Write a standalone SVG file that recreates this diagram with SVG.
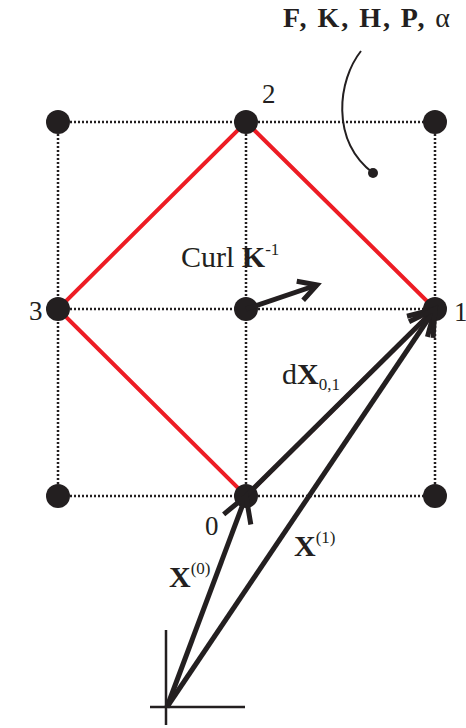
<svg xmlns="http://www.w3.org/2000/svg" width="466" height="728" viewBox="0 0 466 728">
<style>
.grid{stroke:#231f20;stroke-width:2.5;stroke-dasharray:2 2;fill:none}
.red{stroke:#ed1c24;stroke-width:4;fill:none;stroke-linejoin:miter}
.dot{fill:#231f20}
.arr{stroke:#231f20;stroke-width:5;fill:none}
.t{font-family:"Liberation Serif","Times New Roman",serif;fill:#231f20}
.b{font-weight:bold}
</style>
<defs>
<marker id="head" markerUnits="userSpaceOnUse" orient="auto" overflow="visible" markerWidth="30" markerHeight="30" refX="0" refY="0">
<path d="M-25,-14.5 L0,0 L-25,14.5" fill="none" stroke="#231f20" stroke-width="5"/>
</marker>
<marker id="headS" markerUnits="userSpaceOnUse" orient="auto" overflow="visible" markerWidth="30" markerHeight="30" refX="0" refY="0">
<path d="M-18,-10 L0,0 L-18,10" fill="none" stroke="#231f20" stroke-width="5"/>
</marker>
</defs>
<g id="grid">
<path class="grid" d="M58,122H435M58,309H435M58,496H435M58,122V496M246,122V496M435,122V496"/>
</g>
<g id="diamond">
<path class="red" d="M246,122L435,309L246,496L58,309Z"/>
</g>
<g id="nodes">
<circle id="n-tl" class="dot" cx="58" cy="122" r="12"/>
<circle id="n2" class="dot" cx="246" cy="122" r="12"/>
<circle id="n-tr" class="dot" cx="435" cy="122" r="12"/>
<circle id="n3" class="dot" cx="58" cy="309" r="12"/>
<circle id="n-c" class="dot" cx="246" cy="309" r="12"/>
<circle id="n1" class="dot" cx="435" cy="309" r="12"/>
<circle id="n-bl" class="dot" cx="58" cy="496" r="12"/>
<circle id="n0" class="dot" cx="246" cy="496" r="12"/>
<circle id="n-br" class="dot" cx="435" cy="496" r="12"/>
</g>
<g id="connectors">
<line class="arr" x1="246" y1="309" x2="317" y2="285" marker-end="url(#headS)"/>
<line class="arr" x1="246" y1="496" x2="435" y2="309" marker-end="url(#head)"/>
<line class="arr" x1="167" y1="707" x2="246" y2="496" marker-end="url(#head)"/>
<line class="arr" x1="167" y1="707" x2="435" y2="309" marker-end="url(#head)"/>
<path d="M361,51 C338,80 330,140 373,173" fill="none" stroke="#231f20" stroke-width="2"/>
<circle cx="373" cy="173" r="5" class="dot"/>
</g>
<g id="axes">
<path d="M166,630V725M150,707H245" stroke="#231f20" stroke-width="2.5" fill="none"/>
</g>
<g id="labels">
<text class="t b" x="283" y="27" font-size="28" textLength="167">F, K, H, P, <tspan font-weight="normal">α</tspan></text>
<text class="t" x="262" y="103" font-size="27">2</text>
<text class="t" x="29" y="320" font-size="27">3</text>
<text class="t" x="454" y="321" font-size="27">1</text>
<text class="t" x="205" y="535" font-size="27">0</text>
<text class="t" x="181" y="267" font-size="30">Curl <tspan class="b">K</tspan><tspan font-size="17" dy="-12">-1</tspan></text>
<text class="t" x="282" y="384" font-size="30">d<tspan class="b">X</tspan><tspan font-size="17" dy="6">0,1</tspan></text>
<text class="t b" x="169" y="587" font-size="30">X<tspan font-size="17" font-weight="normal" dy="-13">(0)</tspan></text>
<text class="t b" x="294" y="556" font-size="30">X<tspan font-size="17" font-weight="normal" dy="-13">(1)</tspan></text>
</g>
</svg>
